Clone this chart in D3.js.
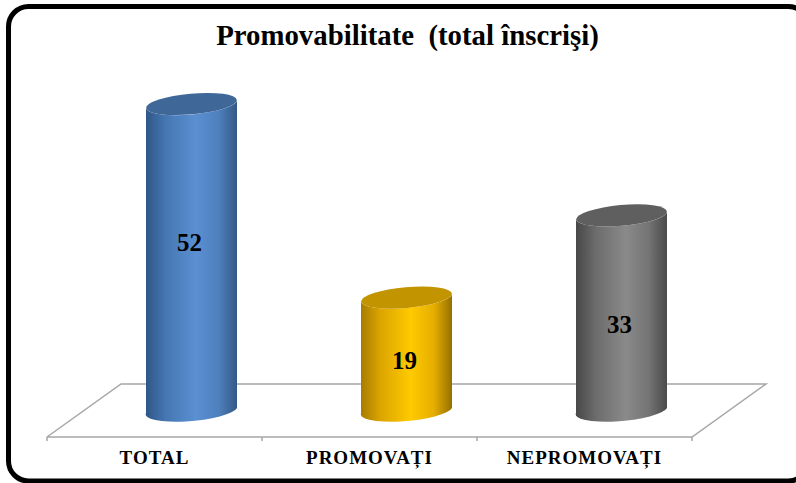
<!DOCTYPE html>
<html><head><meta charset="utf-8">
<script src="https://d3js.org/d3.v7.min.js"></script>
<style>html,body{margin:0;padding:0;background:#fff;overflow:hidden}svg{display:block}</style>
</head><body><svg id="c" width="796" height="483"></svg>
<script>
const categories = ["TOTAL", "PROMOVAȚI", "NEPROMOVAȚI"];
const values = [52, 19, 33];
const titleText = "Promovabilitate  (total înscrişi)";
const palettes = [
  {edgeL:"#2f5687", mid1:"#4577b2", light:"#5a8fd2", mid2:"#4e80bd", edgeR:"#345885", top:"#3f6899"},
  {edgeL:"#a67c00", mid1:"#dca500", light:"#ffca00", mid2:"#e6ae00", edgeR:"#947000", top:"#c29400"},
  {edgeL:"#474747", mid1:"#6c6c6c", light:"#8a8a8a", mid2:"#747474", edgeR:"#4a4a4a", top:"#5f5f5f"}
];
const labelNudge = [-10, 12, 17];
const svg = d3.select("#c");

svg.append("rect").attr("x",8.5).attr("y",6.5).attr("width",800).attr("height",474.5).attr("rx",20)
  .attr("fill","#fff").attr("stroke","#000").attr("stroke-width",5);

svg.append("text").attr("x",407.5).attr("y",45).attr("text-anchor","middle")
  .attr("font-family","'Liberation Serif'").attr("font-weight","bold").attr("font-size",28.8)
  .style("white-space","pre").attr("fill","#000").text(titleText);

const x = d3.scaleBand().domain(categories).range([47,692]);
const y = d3.scaleLinear().domain([0,52]).range([413,108]);
const depthX = 74, depthY = 53, floorY = 437;

const floorColor = "#a6a6a6";
const [fx0, fx1] = x.range();
svg.append("path").attr("fill","none").attr("stroke",floorColor).attr("stroke-width",1.5)
  .attr("d", d3.line()([[fx0,floorY],[fx0+depthX,floorY-depthY],[fx1+depthX,floorY-depthY],[fx1,floorY],[fx0,floorY]]));
const tickPos = categories.map(c=>x(c)).concat([fx1]);
svg.selectAll("line.tick").data(tickPos).join("line").attr("class","tick")
  .attr("x1",d=>d).attr("x2",d=>d).attr("y1",floorY).attr("y2",floorY+4)
  .attr("stroke",floorColor).attr("stroke-width",1.5);

const defs = svg.append("defs");
palettes.forEach((p,i)=>{
  const g = defs.append("linearGradient").attr("id","g"+i).attr("x1",0).attr("x2",1).attr("y1",0).attr("y2",0);
  [[0,p.edgeL],[.22,p.mid1],[.55,p.light],[.8,p.mid2],[1,p.edgeR]].forEach(([o,c])=>
    g.append("stop").attr("offset",o).attr("stop-color",c));
});

const rx = 45.5, ry = 10.4, tilt = -5, halfRise = 4;
const offs = depthX/2;
const cyl = svg.selectAll("g.cyl").data(categories).join("g").attr("class","cyl");
cyl.each(function(c,i){
  const g = d3.select(this);
  const cx = x(c)+x.bandwidth()/2+offs;
  const yb = y(0), yt = y(values[i]);
  const l = cx-rx, r = cx+rx;
  g.append("path").attr("fill",`url(#g${i})`)
    .attr("d",`M${l},${yt}L${l},${yb}A${rx},${ry} ${tilt} 0 0 ${r},${yb-2*halfRise+3}L${r},${yt-2*halfRise}A${rx},${ry} ${tilt} 0 1 ${l},${yt}Z`);
  g.append("ellipse").attr("cx",0).attr("cy",0).attr("rx",rx).attr("ry",ry)
    .attr("transform",`translate(${cx},${yt-halfRise}) rotate(${tilt})`).attr("fill",palettes[i].top);
  g.append("text").attr("x",cx-2).attr("y",(yb+yt)/2+labelNudge[i]).attr("text-anchor","middle")
    .attr("font-family","'Liberation Serif'").attr("font-weight","bold").attr("font-size",25)
    .attr("fill","#000").text(values[i]);
  g.append("text").attr("x",x(c)+x.bandwidth()/2).attr("y",464).attr("text-anchor","middle")
    .attr("font-family","'Liberation Serif'").attr("font-weight","bold").attr("font-size",19)
    .attr("letter-spacing",1).attr("fill","#000").text(c);
});
</script></body></html>
